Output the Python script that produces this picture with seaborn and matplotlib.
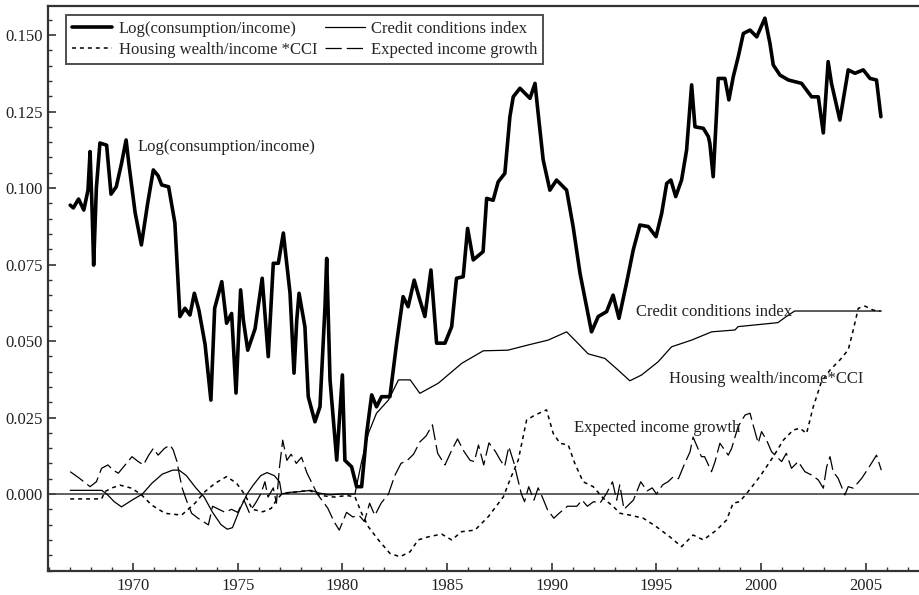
import numpy as np
import pandas as pd
import seaborn as sns
import matplotlib
matplotlib.use("Agg")
import matplotlib.pyplot as plt
from matplotlib.ticker import MultipleLocator, FormatStrFormatter

# ---- series (decimal year, value) ----
lcy_year = [1967.00, 1967.15, 1967.40, 1967.65, 1967.85, 1967.95, 1968.05, 1968.12, 1968.25, 1968.42,
            1968.74, 1968.95, 1969.20, 1969.45, 1969.67, 1969.80, 1970.10, 1970.40, 1970.70, 1970.97,
            1971.20, 1971.37, 1971.70, 1972.00, 1972.24, 1972.48, 1972.72, 1972.93, 1973.15, 1973.44,
            1973.72, 1973.90, 1974.24, 1974.47, 1974.71, 1974.92, 1975.14, 1975.27, 1975.48, 1975.83,
            1976.17, 1976.46, 1976.70, 1976.94, 1977.18, 1977.50, 1977.69, 1977.82, 1977.93, 1978.21,
            1978.37, 1978.69, 1978.93, 1979.17, 1979.25, 1979.41, 1979.73, 1979.88, 1980.00, 1980.12,
            1980.44, 1980.68, 1980.92, 1981.16, 1981.40, 1981.63, 1981.87, 1982.27, 1982.59, 1982.90,
            1983.14, 1983.43, 1983.70, 1983.94, 1984.23, 1984.50, 1984.90, 1985.22, 1985.45, 1985.77,
            1985.98, 1986.25, 1986.72, 1986.89, 1987.20, 1987.44, 1987.76, 1988.00, 1988.16, 1988.48,
            1988.96, 1989.20, 1989.35, 1989.59, 1989.91, 1990.23, 1990.71, 1991.02, 1991.35, 1991.90,
            1992.22, 1992.62, 1992.93, 1993.21, 1993.57, 1993.89, 1994.21, 1994.61, 1994.98, 1995.25,
            1995.49, 1995.69, 1995.92, 1996.20, 1996.44, 1996.68, 1996.84, 1997.24, 1997.48, 1997.55,
            1997.71, 1997.87, 1997.95, 1998.27, 1998.46, 1998.67, 1998.91, 1999.15, 1999.47, 1999.79,
            2000.18, 2000.42, 2000.58, 2000.90, 2001.30, 2001.93, 2002.17, 2002.41, 2002.73, 2002.97,
            2003.20, 2003.36, 2003.76, 2004.16, 2004.48, 2004.88, 2005.20, 2005.51, 2005.72]
lcy_val = [0.0944, 0.0935, 0.0964, 0.0928, 0.0993, 0.1119, 0.0920, 0.0748, 0.1000, 0.1147,
           0.1140, 0.0980, 0.1004, 0.1080, 0.1157, 0.1080, 0.0920, 0.0814, 0.0950, 0.1059,
           0.1040, 0.1010, 0.1004, 0.0886, 0.0580, 0.0607, 0.0585, 0.0656, 0.0600, 0.0490,
           0.0307, 0.0607, 0.0694, 0.0558, 0.0590, 0.0330, 0.0667, 0.0568, 0.0470, 0.0540,
           0.0705, 0.0449, 0.0754, 0.0754, 0.0853, 0.0656, 0.0395, 0.0568, 0.0656, 0.0547,
           0.0318, 0.0236, 0.0285, 0.0612, 0.0770, 0.0373, 0.0111, 0.0265, 0.0389, 0.0110,
           0.0089, 0.0024, 0.0024, 0.0199, 0.0324, 0.0285, 0.0318, 0.0318, 0.0493, 0.0645,
           0.0612, 0.0699, 0.0634, 0.0580, 0.0732, 0.0493, 0.0493, 0.0547, 0.0705, 0.0710,
           0.0868, 0.0765, 0.0792, 0.0966, 0.0960, 0.1020, 0.1048, 0.1233, 0.1298, 0.1326,
           0.1293, 0.1342, 0.1244, 0.1092, 0.0993, 0.1026, 0.0993, 0.0874, 0.0721, 0.0530,
           0.0580, 0.0596, 0.0650, 0.0574, 0.0689, 0.0797, 0.0879, 0.0874, 0.0841, 0.0917,
           0.1015, 0.1026, 0.0972, 0.1026, 0.1124, 0.1337, 0.1200, 0.1195, 0.1168, 0.1146,
           0.1037, 0.1244, 0.1358, 0.1358, 0.1288, 0.1364, 0.1430, 0.1505, 0.1516, 0.1494,
           0.1555, 0.1473, 0.1402, 0.1369, 0.1353, 0.1342, 0.1320, 0.1298, 0.1298, 0.1180,
           0.1413, 0.1342, 0.1222, 0.1386, 0.1375, 0.1386, 0.1358, 0.1353, 0.1233]

cci_year = [1967.00, 1968.50, 1968.75, 1969.10, 1969.45, 1970.00, 1970.45, 1970.90, 1971.40, 1971.90,
            1972.20, 1972.55, 1973.00, 1973.40, 1973.80, 1974.20, 1974.50, 1974.75, 1975.10, 1975.45,
            1975.75, 1976.10, 1976.40, 1976.75, 1977.00, 1977.10, 1977.40, 1978.00, 1978.50, 1978.90,
            1979.40, 1979.90, 1980.40, 1980.60, 1980.90, 1981.24, 1981.63, 1982.20, 1982.68, 1983.24,
            1983.70, 1984.58, 1985.70, 1986.73, 1987.90, 1988.87, 1989.83, 1990.71, 1991.10, 1991.74,
            1992.54, 1993.17, 1993.73, 1994.29, 1995.08, 1995.72, 1996.68, 1997.64, 1998.75, 1998.90,
            2000.80, 2001.20, 2001.60, 2005.74]
cci_val = [0.0012, 0.0012, 0.0000, -0.0025, -0.0042, -0.0018, 0.0000, 0.0035, 0.0065, 0.0078,
           0.0078, 0.0060, 0.0020, -0.0010, -0.0060, -0.0100, -0.0115, -0.0110, -0.0050, 0.0000,
           0.0030, 0.0060, 0.0070, 0.0060, 0.0040, 0.0000, 0.0005, 0.0008, 0.0012, 0.0003,
           -0.0003, 0.0000, 0.0000, 0.0000, 0.0100, 0.0198, 0.0264, 0.0307, 0.0373, 0.0373,
           0.0329, 0.0362, 0.0427, 0.0468, 0.0470, 0.0487, 0.0503, 0.0530, 0.0503, 0.0458,
           0.0443, 0.0405, 0.0370, 0.0389, 0.0432, 0.0481, 0.0503, 0.0530, 0.0536, 0.0547,
           0.0560, 0.0580, 0.0598, 0.0598]

hw_year = [1967.00, 1968.50, 1968.66, 1969.00, 1969.38, 1969.94, 1970.41, 1970.89, 1971.53, 1972.32,
           1972.96, 1973.44, 1973.92, 1974.47, 1974.95, 1975.35, 1975.70, 1976.20, 1976.60, 1976.85,
           1977.10, 1977.60, 1978.40, 1979.00, 1979.60, 1980.20, 1980.60, 1980.92, 1981.24, 1981.72,
           1982.27, 1982.75, 1983.23, 1983.62, 1984.10, 1984.74, 1985.22, 1985.70, 1986.33, 1986.97,
           1987.69, 1988.00, 1988.40, 1988.80, 1989.20, 1989.75, 1990.07, 1990.39, 1990.79, 1991.10,
           1991.50, 1991.98, 1992.46, 1992.94, 1993.26, 1993.73, 1994.37, 1995.00, 1995.64, 1996.20,
           1996.75, 1997.24, 1997.87, 1998.35, 1998.66, 1998.98, 1999.38, 1999.94, 2000.58, 2001.06,
           2001.53, 2001.85, 2002.17, 2002.49, 2002.88, 2003.29, 2003.76, 2004.16, 2004.40, 2004.64,
           2004.96, 2005.35, 2005.70]
hw_val = [-0.0016, -0.0016, 0.0008, 0.0020, 0.0029, 0.0019, -0.0003, -0.0036, -0.0063, -0.0069,
          -0.0030, 0.0008, 0.0035, 0.0057, 0.0035, -0.0003, -0.0050, -0.0058, -0.0047, -0.0020,
          0.0000, 0.0005, 0.0012, -0.0005, -0.0010, -0.0005, -0.0009, -0.0063, -0.0107, -0.0150,
          -0.0194, -0.0205, -0.0189, -0.0150, -0.0140, -0.0131, -0.0150, -0.0123, -0.0118, -0.0074,
          -0.0009, 0.0046, 0.0111, 0.0242, 0.0258, 0.0275, 0.0198, 0.0166, 0.0160, 0.0100,
          0.0040, 0.0024, -0.0014, -0.0041, -0.0063, -0.0069, -0.0079, -0.0107, -0.0140, -0.0172,
          -0.0134, -0.0150, -0.0118, -0.0085, -0.0030, -0.0025, 0.0008, 0.0057, 0.0122, 0.0176,
          0.0209, 0.0215, 0.0198, 0.0285, 0.0367, 0.0405, 0.0438, 0.0471, 0.0536, 0.0607,
          0.0614, 0.0601, 0.0598]

eig_year = [1967.00, 1967.45, 1967.95, 1968.25, 1968.50, 1968.80, 1969.05, 1969.30, 1969.55, 1969.95,
            1970.25, 1970.50, 1970.75, 1970.97, 1971.20, 1971.50, 1971.77, 1971.92, 1972.10, 1972.20,
            1972.35, 1972.55, 1972.80, 1973.10, 1973.60, 1973.80, 1974.10, 1974.40, 1974.70, 1975.00,
            1975.30, 1975.55, 1975.85, 1976.10, 1976.30, 1976.45, 1976.70, 1976.85, 1977.00, 1977.15,
            1977.35, 1977.55, 1977.80, 1978.05, 1978.30, 1978.80, 1979.30, 1979.60, 1979.85, 1980.20,
            1980.50, 1980.80, 1981.05, 1981.30, 1981.55, 1981.85, 1982.20, 1982.50, 1982.80, 1983.10,
            1983.40, 1983.70, 1984.00, 1984.30, 1984.55, 1984.90, 1985.20, 1985.50, 1985.80, 1986.10,
            1986.30, 1986.50, 1986.75, 1987.00, 1987.30, 1987.55, 1987.75, 1987.95, 1988.20, 1988.35,
            1988.55, 1988.70, 1988.90, 1989.15, 1989.35, 1989.55, 1989.80, 1990.10, 1990.40, 1990.75,
            1991.20, 1991.45, 1991.70, 1992.00, 1992.30, 1992.60, 1992.90, 1993.10, 1993.25, 1993.45,
            1993.90, 1994.25, 1994.55, 1994.80, 1995.00, 1995.30, 1995.55, 1995.80, 1996.05, 1996.35,
            1996.60, 1996.75, 1997.15, 1997.30, 1997.63, 1997.80, 1998.03, 1998.43, 1998.59, 1998.90,
            1999.23, 1999.47, 1999.62, 1999.86, 2000.02, 2000.26, 2000.50, 2000.74, 2000.98, 2001.20,
            2001.45, 2001.77, 2002.09, 2002.41, 2002.73, 2002.97, 2003.13, 2003.29, 2003.44, 2003.68,
            2004.00, 2004.16, 2004.40, 2004.80, 2005.12, 2005.51, 2005.74]
eig_val = [0.0073, 0.0051, 0.0024, 0.0040, 0.0084, 0.0095, 0.0078, 0.0068, 0.0089, 0.0122,
           0.0106, 0.0095, 0.0127, 0.0149, 0.0127, 0.0149, 0.0160, 0.0144, 0.0106, 0.0068,
           0.0019, -0.0020, -0.0063, -0.0079, -0.0101, -0.0040, -0.0050, -0.0060, -0.0050, -0.0060,
           -0.0020, -0.0060, -0.0030, 0.0000, 0.0040, -0.0010, 0.0020, -0.0030, 0.0090, 0.0176,
           0.0110, 0.0130, 0.0100, 0.0120, 0.0070, 0.0000, -0.0046, -0.0090, -0.0118, -0.0060,
           -0.0075, -0.0070, -0.0090, -0.0030, -0.0070, -0.0030, 0.0000, 0.0060, 0.0100, 0.0110,
           0.0130, 0.0170, 0.0190, 0.0226, 0.0133, 0.0095, 0.0140, 0.0180, 0.0140, 0.0110,
           0.0106, 0.0160, 0.0095, 0.0167, 0.0140, 0.0110, 0.0090, 0.0155, 0.0100, 0.0056,
           0.0000, -0.0025, 0.0024, -0.0020, 0.0020, -0.0010, -0.0052, -0.0079, -0.0060, -0.0040,
           -0.0040, -0.0020, -0.0040, -0.0025, -0.0030, 0.0000, 0.0040, -0.0020, 0.0030, -0.0050,
           -0.0020, 0.0040, 0.0010, 0.0020, 0.0000, 0.0030, 0.0040, 0.0056, 0.0050, 0.0100,
           0.0137, 0.0186, 0.0122, 0.0122, 0.0073, 0.0106, 0.0166, 0.0127, 0.0149, 0.0220,
           0.0258, 0.0264, 0.0225, 0.0166, 0.0204, 0.0176, 0.0138, 0.0122, 0.0106, 0.0133,
           0.0084, 0.0106, 0.0073, 0.0062, 0.0046, 0.0019, 0.0089, 0.0122, 0.0073, 0.0051,
           -0.0003, 0.0024, 0.0019, 0.0051, 0.0084, 0.0127, 0.0078]

labels = ["Log(consumption/income)", "Credit conditions index",
          "Housing wealth/income *CCI", "Expected income growth"]
y_ticks = [0.000, 0.025, 0.050, 0.075, 0.100, 0.125, 0.150]
x_ticks = [1970, 1975, 1980, 1985, 1990, 1995, 2000, 2005]

sns.set_style("ticks")
plt.rcParams["font.family"] = ["Liberation Serif", "DejaVu Serif"]
plt.rcParams["font.size"] = 12

fig = plt.figure(figsize=(9.19, 5.95), dpi=100)
ax = fig.add_axes([48 / 919, 1 - 571 / 595, 871 / 919, (571 - 6) / 595])

ax.axhline(0, color="#444444", lw=1.2, zorder=1)

styles = [
    (lcy_year, lcy_val, dict(lw=2.6, color="black")),
    (cci_year, cci_val, dict(lw=0.9, color="black")),
    (hw_year, hw_val, dict(lw=1.1, color="black", dashes=(2.6, 2.6))),
    (eig_year, eig_val, dict(lw=0.9, color="black", dashes=(13, 4))),
]
for (xs, ys, kw), lab in zip(styles, labels):
    df = pd.DataFrame({"year": xs, "value": ys})
    sns.lineplot(data=df, x="year", y="value", ax=ax, sort=False,
                 estimator=None, label=lab, **kw)

ax.set_xlim(1965.94, 2007.54)
ax.set_ylim(-0.02516, 0.15948)
ax.set_xticks(x_ticks)
ax.set_yticks(y_ticks)
ax.xaxis.set_minor_locator(MultipleLocator(1))
ax.yaxis.set_minor_locator(MultipleLocator(0.005))
ax.yaxis.set_major_formatter(FormatStrFormatter("%.3f"))
ax.tick_params(axis="both", which="major", direction="in", length=6, width=1.2,
               labelsize=12, colors="#333333", labelcolor="#222222")
ax.tick_params(axis="both", which="minor", direction="in", length=3, width=1.0,
               colors="#333333")
ax.tick_params(axis="y", pad=4)
ax.tick_params(axis="x", pad=5)
ax.set_xlabel("")
ax.set_ylabel("")
for side in ["left", "bottom", "top"]:
    ax.spines[side].set_linewidth(1.6)
    ax.spines[side].set_color("#333333")
ax.spines["right"].set_visible(False)

# legend rows: (Log, CCI) over (Housing, Expected); ncol fills column-wise
h, l = ax.get_legend_handles_labels()
order = [0, 2, 1, 3]
leg = ax.legend([h[i] for i in order], [l[i] for i in order],
                loc="upper left", bbox_to_anchor=(0.0207, 0.984), borderaxespad=0,
                ncol=2, fontsize=12, frameon=True, fancybox=False, handlelength=2.4,
                handletextpad=0.4, columnspacing=0.45, borderpad=0.35, labelspacing=0.3)
leg.get_frame().set_edgecolor("#222222")
leg.get_frame().set_linewidth(1.4)

ax.text(1970.2, 0.1135, "Log(consumption/income)", fontsize=12, va="center", color="#222222")
ax.text(1994.0, 0.0595, "Credit conditions index", fontsize=12, va="center", color="#222222")
ax.text(1995.6, 0.0375, "Housing wealth/income*CCI", fontsize=12, va="center", color="#222222")
ax.text(1991.05, 0.0215, "Expected income growth", fontsize=12, va="center", color="#222222")

fig.savefig("out.png", dpi=100)
